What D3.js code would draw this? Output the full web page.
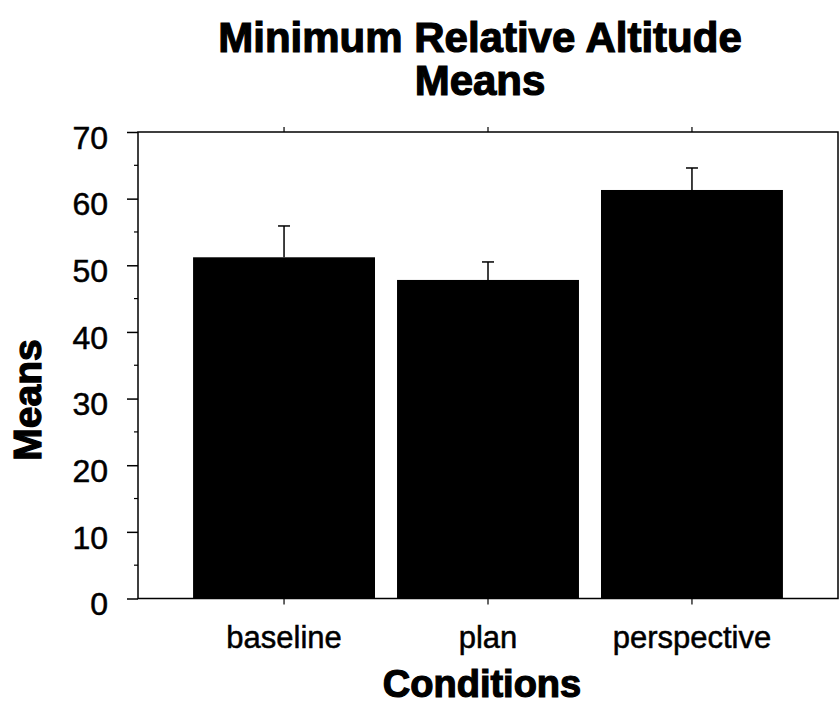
<!DOCTYPE html>
<html>
<head>
<meta charset="utf-8">
<script src="https://cdn.jsdelivr.net/npm/d3@7"></script>
<style>
  body { margin: 0; background: #fff; }
  svg { display: block; }
  text { font-family: "Liberation Sans", Arial, sans-serif; fill: #000; }
</style>
</head>
<body>
<svg class="chart"></svg>
<script>
const width = 840;
const height = 704;
const margin = { top: 132, right: 2, bottom: 106, left: 138 };

// data
const conditions = ["baseline", "plan", "perspective"];
const means = [51.2, 47.8, 61.3];
const errors = [4.7, 2.7, 3.3];
const yTicks = [0, 10, 20, 30, 40, 50, 60, 70];
const yMinor = [5, 15, 25, 35, 45, 55, 65];

const data = conditions.map((c, i) => ({ cond: c, mean: means[i], err: errors[i] }));

const svg = d3.select(".chart").attr("width", width).attr("height", height);

const x = d3
  .scaleBand()
  .domain(conditions)
  .range([margin.left, width - margin.right])
  .paddingInner(0.108)
  .paddingOuter(0.27);

const y = d3
  .scaleLinear()
  .domain([0, 70])
  .range([height - margin.bottom + 0.5, margin.top]);

// frame
svg
  .append("rect")
  .attr("x", margin.left)
  .attr("y", margin.top)
  .attr("width", width - margin.right - margin.left)
  .attr("height", y(0) - margin.top)
  .attr("fill", "none")
  .attr("stroke", "#000")
  .attr("stroke-width", 1.5);

// bars
svg
  .selectAll(".bar")
  .data(data)
  .enter()
  .append("rect")
  .attr("class", "bar")
  .attr("x", (d) => x(d.cond))
  .attr("y", (d) => y(d.mean))
  .attr("width", x.bandwidth())
  .attr("height", (d) => y(0) - y(d.mean))
  .attr("fill", "#000");

// error bars (upper only)
const err = svg.selectAll(".err").data(data).enter().append("g").attr("class", "err");
err
  .append("line")
  .attr("x1", (d) => x(d.cond) + x.bandwidth() / 2)
  .attr("x2", (d) => x(d.cond) + x.bandwidth() / 2)
  .attr("y1", (d) => y(d.mean))
  .attr("y2", (d) => y(d.mean + d.err))
  .attr("stroke", "#000")
  .attr("stroke-width", 1.5);
err
  .append("line")
  .attr("x1", (d) => x(d.cond) + x.bandwidth() / 2 - 6)
  .attr("x2", (d) => x(d.cond) + x.bandwidth() / 2 + 6)
  .attr("y1", (d) => y(d.mean + d.err))
  .attr("y2", (d) => y(d.mean + d.err))
  .attr("stroke", "#000")
  .attr("stroke-width", 1.5);

// y axis
const yAxis = svg
  .append("g")
  .attr("transform", `translate(${margin.left},0)`)
  .call(d3.axisLeft(y).tickValues(yTicks).tickSize(11).tickPadding(19).tickFormat(d3.format("d")));
yAxis.select(".domain").remove();
yAxis.selectAll("line").attr("stroke-width", 1.5);
yAxis
  .selectAll("text")
  .attr("transform", "translate(0,6)")
  .attr("stroke", "#000")
  .attr("stroke-width", 0.5)
  .style("font-size", "32px");

svg
  .append("g")
  .selectAll("line")
  .data(yMinor)
  .enter()
  .append("line")
  .attr("x1", margin.left - 4)
  .attr("x2", margin.left)
  .attr("y1", (d) => y(d))
  .attr("y2", (d) => y(d))
  .attr("stroke", "#000")
  .attr("stroke-width", 1.2);

// x ticks (bottom and top) and labels
const centers = (d) => x(d) + x.bandwidth() / 2;
svg
  .append("g")
  .selectAll("line")
  .data(conditions)
  .enter()
  .append("line")
  .attr("x1", centers)
  .attr("x2", centers)
  .attr("y1", y(0))
  .attr("y2", y(0) + 6)
  .attr("stroke", "#000")
  .attr("stroke-width", 1.2);
svg
  .append("g")
  .selectAll("line")
  .data(conditions)
  .enter()
  .append("line")
  .attr("x1", centers)
  .attr("x2", centers)
  .attr("y1", margin.top)
  .attr("y2", margin.top - 5)
  .attr("stroke", "#000")
  .attr("stroke-width", 1.2);
svg
  .append("g")
  .selectAll("text")
  .data(conditions)
  .enter()
  .append("text")
  .attr("x", centers)
  .attr("y", 648)
  .attr("text-anchor", "middle")
  .attr("stroke", "#000")
  .attr("stroke-width", 0.5)
  .style("font-size", "31px")
  .text((d) => d);

// titles
const title = svg
  .append("text")
  .attr("x", 480)
  .attr("text-anchor", "middle")
  .style("font-size", "42px")
  .style("font-weight", "bold")
  .attr("stroke", "#000")
  .attr("stroke-width", 1.2);
title.append("tspan").attr("x", 480).attr("y", 52).text("Minimum Relative Altitude");
title.append("tspan").attr("x", 480).attr("y", 95).text("Means");

svg
  .append("text")
  .attr("x", 482)
  .attr("y", 697)
  .attr("text-anchor", "middle")
  .style("font-size", "38px")
  .style("font-weight", "bold")
  .attr("stroke", "#000")
  .attr("stroke-width", 1.2)
  .text("Conditions");

svg
  .append("text")
  .attr("transform", "translate(41,400) rotate(-90)")
  .attr("text-anchor", "middle")
  .style("font-size", "39px")
  .style("font-weight", "bold")
  .attr("stroke", "#000")
  .attr("stroke-width", 1.2)
  .text("Means");
</script>
</body>
</html>
